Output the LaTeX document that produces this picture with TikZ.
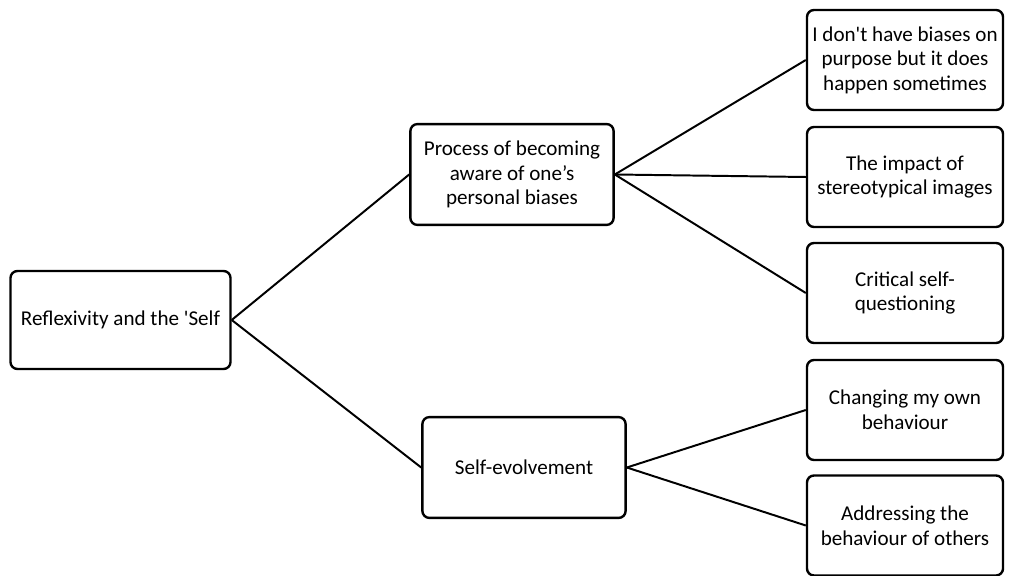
\documentclass[tikz,border=0pt]{standalone}
\usepackage{fontspec}
\setmainfont{Carlito}[Ligatures=TeXOff]
\usepackage{tikz}
\usetikzlibrary{positioning,calc}
\definecolor{ink}{HTML}{000000}
\tikzset{
  themebox/.style={draw=ink,fill=white,line width=1.7pt,rounded corners=5pt,
                   align=center,inner sep=3pt,
                   font=\fontsize{15}{17.5}\selectfont},
  rootbox/.style={themebox,minimum width=5.5cm,minimum height=2.45cm},
  midbox/.style={themebox,minimum width=5.08cm,minimum height=2.52cm},
  leafbox/.style={themebox,minimum width=4.9cm,minimum height=2.5cm},
  link/.style={draw=ink,line width=1.4pt}
}

\begin{document}
\begin{tikzpicture}[x=0.025cm,y=-0.025cm]
  \useasboundingbox (0,0) rectangle (1010,576);
  % main theme
  \node[rootbox] (self) at (120.5,320) {Reflexivity and the 'Self};
  % sub themes
  \node[midbox] (aware) at (512,174.5)
    {Process of becoming\\aware of one’s\\personal biases};
  \node[midbox] (evolve) at (524,467.5) {Self-evolvement};
  % codes
  \node[leafbox] (purpose) at (905,60)
    {I don't have biases on\\purpose but it does\\happen sometimes};
  \node[leafbox] (images) at (905,177) {The impact of\\stereotypical images};
  \node[leafbox] (critical) at (905,293) {Critical self-\\questioning};
  \node[leafbox] (changing) at (905,410) {Changing my own\\behaviour};
  \node[leafbox] (others) at (905,525.5) {Addressing the\\behaviour of others};
  % links
  \draw[link] (self.east) -- (aware.west);
  \draw[link] (self.east) -- (evolve.west);
  \foreach \leaf in {purpose,images,critical}
    \draw[link] (aware.east) -- (\leaf.west);
  \foreach \leaf in {changing,others}
    \draw[link] (evolve.east) -- (\leaf.west);
\end{tikzpicture}
\end{document}
